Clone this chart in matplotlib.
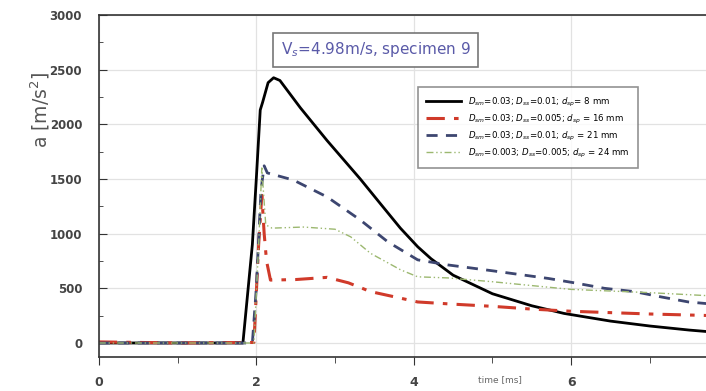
import matplotlib
matplotlib.use("Agg")
import matplotlib.pyplot as plt
import numpy as np

# time [ms] and acceleration [m/s^2]
t_black = [0, 1.0, 1.83, 1.95, 2.0, 2.05, 2.08, 2.15, 2.22, 2.3, 2.56, 2.9, 3.32, 3.58, 3.83, 4.05, 4.22,
           4.5, 5.0, 5.5, 5.91, 6.5, 7.0, 7.5, 7.8]
a_black = [0, 0, 0, 900, 1500, 2130, 2200, 2380, 2425, 2400, 2150, 1850, 1500, 1270, 1050, 880, 770,
           620, 450, 340, 270, 200, 155, 118, 100]

t_blue = [0, 1.0, 1.95, 2.0, 2.06, 2.1, 2.14, 2.47, 2.9, 3.32, 3.67, 4.05, 4.43, 5.0, 5.71, 6.04, 6.42,
          6.8, 7.15, 7.49, 7.8]
a_blue = [0, 0, 0, 500, 1400, 1620, 1555, 1490, 1335, 1125, 925, 760, 714, 660, 590, 550, 500,
          470, 420, 375, 355]

t_green = [0, 1.0, 1.97, 2.03, 2.07, 2.12, 2.2, 2.6, 3.0, 3.2, 3.45, 3.83, 4.05, 4.43, 5.0, 5.71, 6.0,
           7.0, 7.8]
a_green = [0, 0, 0, 900, 1600, 1080, 1050, 1060, 1040, 970, 820, 670, 605, 595, 560, 510, 490,
           460, 430]

t_red = [0, 1.0, 1.97, 2.03, 2.07, 2.1, 2.13, 2.18, 2.5, 2.9, 3.17, 3.45, 3.83, 4.05, 4.5, 5.0, 5.5,
         6.0, 7.0, 7.8]
a_red = [10, 0, 5, 900, 1350, 1000, 750, 575, 580, 600, 550, 470, 410, 375, 355, 335, 310,
         290, 265, 250]

labels = [r'$D_{sm}$=0.03; $D_{ss}$=0.01; $d_{sp}$= 8 mm',
          r'$D_{sm}$=0.03; $D_{ss}$=0.005; $d_{sp}$ = 16 mm',
          r'$D_{sm}$=0.03; $D_{ss}$=0.01; $d_{sp}$ = 21 mm',
          r'$D_{sm}$=0.003; $D_{ss}$=0.005; $d_{sp}$ = 24 mm']

fig = plt.figure(figsize=(7.06, 3.91), dpi=100)
ax = fig.add_axes([0.140, 0.087, 0.862, 0.875])

ax.plot(t_black, a_black, color='black', lw=2.0, label=labels[0])
ax.plot(t_red, a_red, color='#d03a2a', lw=2.2, ls=(0, (6, 3, 1.5, 3)), label=labels[1])
ax.plot(t_blue, a_blue, color='#3d4670', lw=2.0, ls=(0, (4, 3)), label=labels[2])
ax.plot(t_green, a_green, color='#9cb870', lw=1.0, ls=(0, (5, 2, 1, 2, 1, 2)), label=labels[3])

ax.set_xlim(0, 7.73)
ax.set_ylim(-128, 3000)
ax.set_xticks([0, 2, 4, 6])
ax.set_xticks([1, 3, 5, 7], minor=True)
ax.set_yticks([0, 500, 1000, 1500, 2000, 2500, 3000])
ax.set_yticks(np.arange(250, 3000, 500), minor=True)
ax.grid(True, color='#e2e2e2', lw=0.9)
ax.set_axisbelow(True)
ax.spines['right'].set_visible(False)
for s in ['left', 'bottom', 'top']:
	ax.spines[s].set_color('#333333')
	ax.spines[s].set_linewidth(1.2)
ax.tick_params(axis='y', direction='in', length=6, color='#333333', labelcolor='#444444',
               labelsize=8.5, pad=12)
ax.tick_params(axis='y', which='minor', direction='in', length=3, color='#333333')
ax.tick_params(axis='x', direction='out', length=6, color='#333333', labelcolor='#444444',
               labelsize=9, pad=8)
ax.tick_params(axis='x', which='minor', direction='out', length=4, color='#333333')
for lb in ax.get_yticklabels() + ax.get_xticklabels():
	lb.set_fontweight('bold')

fig.text(40 / 706, 1 - 110 / 391, 'a [m/s$^2$]', rotation=90, ha='center', va='center',
         fontsize=13.5, color='#555555')
fig.text(500 / 706, 1 - 380 / 391, 'time [ms]', ha='center', va='center', fontsize=6.5,
         color='#666666')

ax.text(0.455, 0.898, 'V$_s$=4.98m/s, specimen 9', transform=ax.transAxes, ha='center',
        va='center', fontsize=11, color='#5a5aa8',
        bbox=dict(boxstyle='square,pad=0.5', fc='white', ec='#777777', lw=1.2))

leg = ax.legend(loc='upper left', bbox_to_anchor=(0.524, 0.789), fontsize=6.2, frameon=True,
                fancybox=False, edgecolor='#777777', handlelength=4, borderpad=1.0,
                labelspacing=0.45, borderaxespad=0)
leg.get_frame().set_linewidth(1.2)

fig.savefig('out.png', dpi=100)
